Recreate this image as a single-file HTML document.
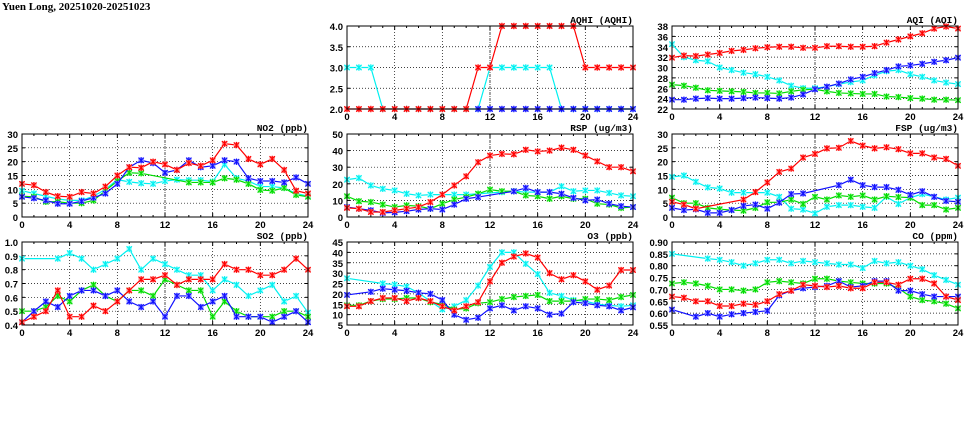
<!DOCTYPE html>
<html><head><meta charset="utf-8"><style>
html,body{margin:0;padding:0;background:#fff;width:975px;height:447px;overflow:hidden}
</style></head><body>
<svg id="s" width="975" height="447" xmlns="http://www.w3.org/2000/svg"></svg>
<script>
const S=document.getElementById('s');let h='';
h+='<text x="2" y="10" style="font-family:\'Liberation Serif\',serif;font-size:11px;font-weight:bold">Yuen Long, 20251020-20251023</text>';
const C={r:'#ff0000',b:'#1010ff',g:'#00dd00',c:'#00f0f0'};
const L={r:'#ff9090',b:'#9090ff',g:'#90f090',c:'#a0ffff'};
const SF='style="font-family:\'Liberation Sans\',sans-serif;font-size:9.5px;font-weight:bold"';
function panel(x0,y0,title,ymin,ymax,step,dec,series){
 const W=286,H=83;
 const X=t=>x0+t*W/24, Y=v=>y0+H-(v-ymin)/(ymax-ymin)*H;
 for(let t=4;t<24;t+=4){h+=`<line x1="${X(t)}" y1="${y0}" x2="${X(t)}" y2="${y0+H}" stroke="#000" stroke-width="0.7" stroke-dasharray="${t%12==0?'3,1,1,1':'1,2'}"/>`;}
 for(let v=ymin+step;v<ymax-1e-9;v+=step){h+=`<line x1="${x0}" y1="${Y(v)}" x2="${x0+W}" y2="${Y(v)}" stroke="#000" stroke-width="0.7" stroke-dasharray="1,2"/>`;}
 for(let t=0;t<=24;t++){const l=t%4==0?4:2;h+=`<line x1="${X(t)}" y1="${y0+H}" x2="${X(t)}" y2="${y0+H-l}" stroke="#000"/><line x1="${X(t)}" y1="${y0}" x2="${X(t)}" y2="${y0+l}" stroke="#000"/>`;}
 for(let v=ymin;v<=ymax+1e-9;v+=step){h+=`<line x1="${x0}" y1="${Y(v)}" x2="${x0+3}" y2="${Y(v)}" stroke="#000"/><line x1="${x0+W}" y1="${Y(v)}" x2="${x0+W-3}" y2="${Y(v)}" stroke="#000"/>`;
  h+=`<text x="${x0-4}" y="${Y(v)+4}" ${SF} text-anchor="end">${v.toFixed(dec)}</text>`;}
 for(let t=0;t<=24;t+=4)h+=`<text x="${X(t)}" y="${y0+H+11}" ${SF} text-anchor="middle">${t}</text>`;
 h+=`<text x="${x0+W}" y="${y0-3}" style="font-family:'Liberation Mono',monospace;font-size:9.5px;font-weight:bold" text-anchor="end">${title}</text>`;
 for(const [k,d] of series){
  let pts=[];d.forEach((v,i)=>{if(v!=null)pts.push([X(i),Y(v)])});
  h+=`<polyline fill="none" stroke="${C[k]}" stroke-width="1.2" points="${pts.map(p=>p.join(',')).join(' ')}"/>`;
  for(const [px,py] of pts){h+=`<rect x="${px-2.7}" y="${py-2.7}" width="5.4" height="5.4" fill="${L[k]}"/><path d="M${px-2.7} ${py-2.7}L${px+2.7} ${py+2.7}M${px+2.7} ${py-2.7}L${px-2.7} ${py+2.7}M${px} ${py-3.2}V${py+3.2}" stroke="${C[k]}" stroke-width="1.1"/>`;}
 }
 h+=`<rect x="${x0}" y="${y0}" width="${W}" height="${H}" fill="none" stroke="#000"/>`;
}
const n=null;
panel(22,134,'NO2 (ppb)',0,30,5,0,[
['c',[9.5,8.5,7.5,6.5,6,6,7.5,10,13.5,12.7,12.2,12,13,13.5,13.3,13.3,12.8,19,14,13,11,11,10.5,8.5,7.5]],
['g',[7.5,7.3,5.5,5.5,5,5,6,9.5,13,16,15.8,n,n,n,12.5,12.5,12.5,14,13.5,12,9.8,9.5,10.5,8,7.3]],
['b',[7.3,6.8,6,4.8,4.8,5.7,7,8.5,12,18,20.5,19.5,16,17,20.5,18,18.5,20.5,20,14,13,13,12.5,14.3,12]],
['r',[12,11.5,9,7.5,7.3,9,8.5,11,15,18,17.8,20,19,17,19.5,18.5,20.5,26.5,26,21,19,21,17,9.5,8.5]]]);
panel(347,26,'AQHI (AQHI)',2,4,0.5,1,[
['c',[3,3,3,2,2,2,2,2,2,2,2,2,3,3,3,3,3,3,2,2,2,2,2,2,2]],
['r',[2,2,2,2,2,2,2,2,2,2,2,3,3,4,4,4,4,4,4,4,3,3,3,3,3]],
['b',[n,n,n,n,n,n,n,n,n,n,n,2,2,2,2,2,2,2,2,2,2,2,2,2,2]]]);
panel(672,26,'AQI (AQI)',22,38,2,0,[
['c',[34.5,32,31.4,31.2,30,29.5,29,28.7,28.2,27.5,26.5,26,26,26.3,26.8,27.2,27.5,28.5,29.3,29.5,28.7,28.2,27.5,27.1,26.8]],
['g',[26.7,26.5,26.1,25.6,25.5,25.4,25.3,25.1,25.1,25,25.4,25.7,25.8,25.4,25.1,25,24.9,24.9,24.4,24.3,24.1,24,23.8,23.8,23.7]],
['b',[23.8,23.8,24,24.1,24,24,24.1,24.2,24.1,24,24.2,24.8,25.8,26.3,26.9,27.7,28.2,28.9,29.5,30.2,30.4,30.7,31.1,31.4,31.9]],
['r',[31.9,32.3,32.2,32.5,32.8,33.2,33.4,33.7,33.9,34,34,33.8,33.8,34.1,34.1,34,34,34.1,34.8,35.4,36,36.6,37.5,37.9,37.5]]]);
panel(347,134,'RSP (ug/m3)',0,50,10,0,[
['c',[22.5,23.5,19,17,16,14,13,13.5,13.5,13.5,13.5,14,n,15,15.5,15,15,15,18.5,15.5,16,16,14.5,13,12.5]],
['g',[12.5,9.5,9,7.5,6,7,6.5,5,8,10.5,12,14,16.5,15.5,15.5,13,12.5,11,12.5,11,11,8,7.5,5.5,6]],
['b',[6,5,4,2.5,2.8,3.5,4.5,5,4.5,7.5,11,12,n,n,15.5,17.5,15,15,14,11.5,10,10.5,8,6.5,6]],
['r',[5.5,5,3,3,4,5,6,9,13.5,19,24.5,33,37,38,37.8,40.5,39.5,40,41.8,40.5,37,33.5,30,30,27.5]]]);
panel(672,134,'FSP (ug/m3)',0,30,5,0,[
['c',[14.5,15,12.7,10.7,10.3,8.8,8.8,n,8.8,7.3,3,2.7,1.3,3.7,4.3,4.3,3.7,3.3,7.3,4.7,7,8.3,7.3,6.3,7]],
['g',[7,5,5,3.3,2.8,2.5,2.3,3.3,5.3,5.3,6.3,4.7,7.3,6.3,7.8,7.3,7.8,6.3,7.5,7.2,7,4.3,4.3,2.7,3.3]],
['b',[3.3,2.5,2.8,1.5,1.5,2.5,4,4.5,3,5.2,8.3,8.5,n,n,11.5,13.5,11.5,10.8,10.8,9.8,8,9.3,7.3,5.8,5.5]],
['r',[5.5,4.5,3,n,n,n,6.3,9,12.5,16.3,17.5,21.5,22.8,24.8,25,27.5,25.8,24.8,25.2,24.5,23,23,21.5,21,18.5]]]);
panel(22,242,'SO2 (ppb)',0.4,1.0,0.1,1,[
['c',[0.88,n,n,0.88,0.92,0.88,0.80,0.84,0.88,0.95,0.80,0.88,0.84,0.80,0.76,0.76,0.65,0.73,0.69,0.61,0.65,0.69,0.57,0.61,0.49]],
['g',[0.5,0.5,0.53,0.61,0.57,0.65,0.69,0.61,0.57,0.65,0.65,0.61,0.73,0.69,0.65,0.65,0.46,0.57,0.5,0.46,0.46,0.46,0.5,0.5,0.46]],
['b',[0.42,0.5,0.57,0.53,0.61,0.65,0.65,0.61,0.65,0.57,0.53,0.57,0.46,0.61,0.61,0.53,0.57,0.61,0.46,0.46,0.46,0.42,0.46,0.5,0.42]],
['r',[0.42,0.46,0.5,0.65,0.46,0.46,0.54,0.5,0.57,0.65,0.73,0.73,0.76,0.69,0.73,0.73,0.73,0.84,0.80,0.80,0.76,0.76,0.80,0.88,0.80]]]);
panel(347,242,'O3 (ppb)',5,45,5,0,[
['c',[27.5,n,n,25,24.5,23.5,20.5,n,12.5,14,17,24,33,40,40,34.5,29.5,20.5,19,17,16.5,15,14.5,14,14.5]],
['g',[14.5,14.5,16.5,17.5,17.5,18,18,16,15,12.5,13,15.5,16,17.5,18.5,19,19.5,16.5,16.5,16.5,17.5,17.5,17,18.5,19.5]],
['b',[19.5,n,21,22.5,22,21.5,20.5,20,17,10,7.5,8.5,13,14.5,12,14,13,10,10.5,16,15.5,14.5,14,12,13.5]],
['r',[14,14,16.5,18,18,16.5,18,16.5,14,12,14,16,26,35,38,39.5,37.5,30,27,29,26,22,24,31.5,31.5]]]);
panel(672,242,'CO (ppm)',0.55,0.90,0.05,2,[
['c',[.85,n,n,.83,.825,.815,.80,.81,.825,.825,.81,.82,.815,.81,.805,.805,.79,.82,.81,.815,.80,.785,.76,.74,.72]],
['g',[.725,.73,.725,.715,.70,.70,.695,.70,.73,.735,.73,.725,.745,.745,.735,.73,.725,.725,.725,.705,.67,.655,.65,.64,.62]],
['b',[.615,n,.585,.60,.585,.595,.60,.605,.61,.675,.695,.705,.71,.715,.735,.71,.715,.735,.735,.695,.695,.68,.67,.67,.67]],
['r',[.67,.665,.65,.65,.63,.63,.64,.635,.65,.68,.695,.72,.715,.71,.715,.705,.705,.73,.73,.72,.745,.745,.725,.67,.655]]]);
S.innerHTML=h;
</script>
</body></html>
